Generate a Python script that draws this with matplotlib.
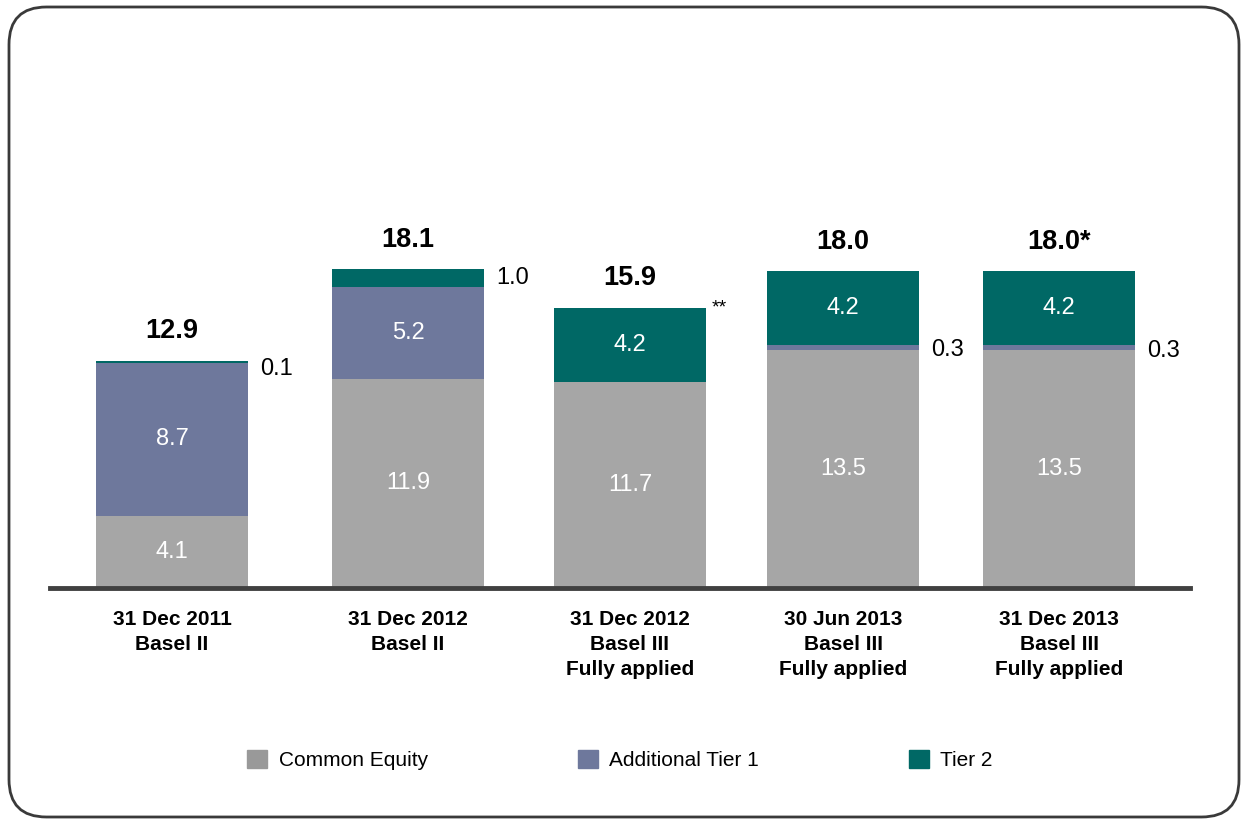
import matplotlib.pyplot as plt
from matplotlib.patches import FancyBboxPatch, Patch

plt.rcParams['font.family'] = ['Liberation Sans', 'DejaVu Sans']

categories = ['31 Dec 2011\nBasel II', '31 Dec 2012\nBasel II',
              '31 Dec 2012\nBasel III\nFully applied',
              '30 Jun 2013\nBasel III\nFully applied',
              '31 Dec 2013\nBasel III\nFully applied']
common_equity = [4.1, 11.9, 11.7, 13.5, 13.5]
additional_tier1 = [8.7, 5.2, 0.0, 0.3, 0.3]
tier2 = [0.1, 1.0, 4.2, 4.2, 4.2]
totals = ['12.9', '18.1', '15.9', '18.0', '18.0*']
series_names = ['Common Equity', 'Additional Tier 1', 'Tier 2']

# layout (pixel-like x positions of bar centres)
xpos = [172, 408, 630, 843, 1059]
bar_w = 152
colors = ['#a6a6a6', '#6e789c', '#006865']

fig = plt.figure(figsize=(12.49, 8.23), dpi=100)
W, H = 1249, 823
ax = fig.add_axes([50 / W, 235 / H, 1140 / W, 538 / H])
ax.set_xlim(50, 1190)
ax.set_ylim(0, 538 / 17.6)
ax.axis('off')

bottom = [0] * len(xpos)
for vals, col in zip([common_equity, additional_tier1, tier2], colors):
    ax.bar(xpos, vals, width=bar_w, bottom=bottom, color=col, linewidth=0)
    bottom = [b + v for b, v in zip(bottom, vals)]

# white labels inside segments
for i, x in enumerate(xpos):
    ax.text(x, common_equity[i] / 2, f'{common_equity[i]:.1f}', ha='center', va='center',
            color='white', fontsize=17)
    if additional_tier1[i] > 1:
        ax.text(x, common_equity[i] + additional_tier1[i] / 2, f'{additional_tier1[i]:.1f}',
                ha='center', va='center', color='white', fontsize=17)
    if tier2[i] > 1:
        ax.text(x, common_equity[i] + additional_tier1[i] + tier2[i] / 2, f'{tier2[i]:.1f}',
                ha='center', va='center', color='white', fontsize=17)

# small side labels
side = [(0, tier2[0], common_equity[0] + additional_tier1[0] + tier2[0] / 2 - 0.4),
        (1, tier2[1], common_equity[1] + additional_tier1[1] + tier2[1] / 2),
        (3, additional_tier1[3], common_equity[3] + additional_tier1[3] / 2 - 0.1),
        (4, additional_tier1[4], common_equity[4] + additional_tier1[4] / 2 - 0.2)]
for i, v, y in side:
    ax.text(xpos[i] + bar_w / 2 + 12, y, f'{v:.1f}', ha='left', va='center', fontsize=17)
ax.text(xpos[2] + bar_w / 2 + 6, bottom[2], '**', ha='left', va='center', fontsize=14)

# totals
for x, top, t in zip(xpos, bottom, totals):
    ax.annotate(t, (x, top), xytext=(0, 12), textcoords='offset points',
                ha='center', va='bottom', fontsize=19.5, fontweight='bold')

ax.axhline(0, color='#404040', lw=3.5, xmin=0, xmax=1, clip_on=False)

for x, c in zip(xpos, categories):
    ax.annotate(c, (x, 0), xytext=(0, -16), textcoords='offset points', ha='center',
                va='top', fontsize=15, fontweight='bold', linespacing=1.4)

handles = [Patch(color=c, label=n) for c, n in zip(['#999999', '#6e789c', '#006865'], series_names)]
fig.legend(handles=handles, loc='center', bbox_to_anchor=(620 / W, 1 - 760 / H), ncol=3,
           frameon=False, fontsize=15, handlelength=0.95, handleheight=0.95,
           columnspacing=7.2, handletextpad=0.55)

fig.patches.append(FancyBboxPatch((9 / W, 6 / H), 1230 / W, 810 / H,
                                  boxstyle='round,pad=0,rounding_size=0.03',
                                  transform=fig.transFigure, fill=False,
                                  edgecolor='#3a3a3a', lw=2, mutation_aspect=W / H))

fig.savefig('out.png', dpi=100)
